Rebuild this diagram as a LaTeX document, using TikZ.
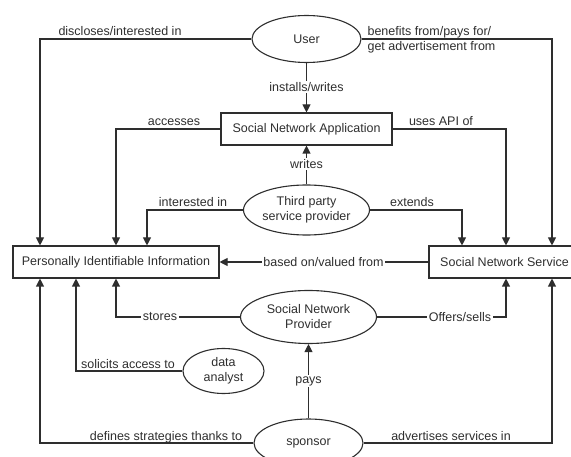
\documentclass[tikz,border=0pt]{standalone}
\usepackage{fontspec}
\setmainfont{Liberation Sans}
\usetikzlibrary{shapes.geometric,arrows.meta}
\definecolor{ink}{HTML}{2E2E2E}
\begin{document}
\begin{tikzpicture}[x=1pt,y=-1pt,
  color=ink, line width=1.1pt,
  every node/.style={font=\fontsize{12.5}{15}\selectfont},
  entity/.style={draw, rectangle, inner sep=0pt, minimum height=32pt},
  actor/.style={draw, ellipse, inner sep=0pt, align=center},
  link/.style={-{Triangle[length=8pt,width=8pt]}},
  onlabel/.style={fill=white, inner sep=1.5pt},
  toplabel/.style={anchor=base, inner sep=0pt},
]
\path[use as bounding box, clip] (0,0) rectangle (571,457);

% entities and actors
\node[actor, minimum width=109pt, minimum height=47pt] (user) at (306.5,39) {User};
\node[entity, minimum width=171pt] (sna) at (306.5,129) {Social Network Application};
\node[actor, minimum width=126pt, minimum height=50pt] (tp) at (306.5,210) {Third party\\service provider};
\node[entity, minimum width=206pt] (pii) at (116,262) {Personally Identifiable Information};
\node[entity, minimum width=151pt] (sns) at (504.5,262) {Social Network Service};
\node[actor, minimum width=136pt, minimum height=53pt] (snp) at (308.5,317) {Social Network\\Provider};
\node[actor, minimum width=81pt, minimum height=45pt] (da) at (223.5,371) {data\\analyst};
\node[actor, minimum width=109pt, minimum height=48pt] (sp) at (308.5,443) {sponsor};

% relations
\draw[link] (user.west) -| ([xshift=-76pt]pii.north);
\draw[link] (user.east) -| ([xshift=47.5pt]sns.north);
\draw[link] (user.south) -- (sna.north);
\draw[link] (sna.west) -| (pii.north);
\draw[link] (sna.east) -| ([xshift=1.5pt]sns.north);
\draw[link] (tp.north) -- (sna.south);
\draw[link] (tp.west) -| ([xshift=31pt]pii.north);
\draw[link] (tp.east) -| ([xshift=-42.5pt]sns.north);
\draw[link] (sns.west) -- (pii.east);
\draw[link] (snp.west) -| (pii.south);
\draw[link] (snp.east) -| ([xshift=1.5pt]sns.south);
\draw[link] (da.west) -| ([xshift=-40pt]pii.south);
\draw[link] (sp.north) -- (snp.south);
\draw[link] (sp.west) -| ([xshift=-76pt]pii.south);
\draw[link] (sp.east) -| ([xshift=47.5pt]sns.south);

% relation labels
\node[toplabel] (l1) at (120,36) {discloses/interested in};
\node[anchor=west, align=left, inner sep=0pt] (l2) at (367,39.5) {benefits from/pays for/\\get advertisement from};
\node[onlabel] (l3) at (306.5,87) {installs/writes};
\node[toplabel] (l4) at (174,126) {accesses};
\node[toplabel] (l5) at (441,126) {uses API of};
\node[onlabel] (l6) at (306.5,164) {writes};
\node[toplabel] (l7) at (193,207) {interested in};
\node[toplabel] (l8) at (412,207) {extends};
\node[onlabel] (l9) at (323.5,262) {based on/valued from};
\node[onlabel] (l10) at (160,317) {stores};
\node[onlabel] (l11) at (460,317) {Offers/sells};
\node[toplabel] (l12) at (128,369) {solicits access to};
\node[onlabel] (l13) at (308.5,381) {pays};
\node[toplabel] (l14) at (166,440) {defines strategies thanks to};
\node[toplabel] (l15) at (451,440) {advertises services in};
\end{tikzpicture}
\end{document}
